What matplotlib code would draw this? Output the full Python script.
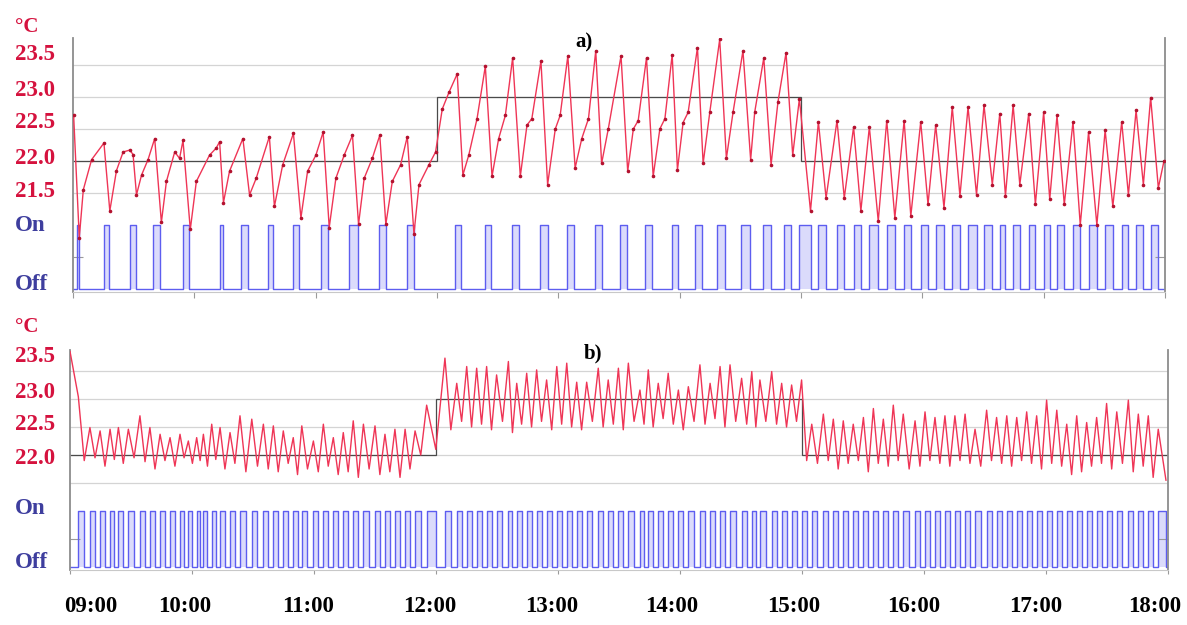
import matplotlib.pyplot as plt
import numpy as np
from matplotlib.transforms import ScaledTranslation

# time in minutes after 09:00, temperature in degC

# set point of the room (both runs)
sp_t = [0, 180, 360, 540]
sp_v = [22.0, 23.0, 22.0]

# ---- a) ----  vertices of the recorded temperature
a_t = [0.3, 3.1, 5.1, 9.2, 15.3, 18.2, 21.5, 24.8, 28.1, 29.7, 31.4, 33.9, 37.1, 40.4, 43.7, 46.2,
       50.3, 52.7, 54.4, 58.0, 61.0, 67.5, 70.8, 72.5, 74.4, 77.4, 84.0, 87.3, 90.6, 97.1, 99.6,
       103.7, 109.0, 112.7, 116.0, 120.1, 123.7, 126.7, 130.0, 134.1, 138.2, 141.2, 144.0, 148.0,
       151.7, 154.7, 157.9, 162.0, 165.3, 168.6, 171.1, 176.0, 179.3,
       182.6, 185.9, 190.0, 192.8, 195.7, 199.8, 203.9, 207.2, 210.5, 213.8, 217.4, 221.2, 224.5,
       226.9, 231.4, 234.7, 238.5, 240.9, 244.7, 248.3, 251.6, 254.9, 258.5, 261.4, 264.7, 271.0,
       274.3, 277.1, 279.5, 283.6, 286.9, 290.2, 292.7, 296.3, 298.9, 301.7, 304.2, 308.8, 311.6,
       314.9, 319.8, 323.1, 326.4, 331.3, 335.1, 337.1, 341.6, 345.2, 348.6, 352.6, 355.9, 359.2,
       364.7, 368.6, 372.4, 377.8, 381.4, 386.0, 389.6, 393.8, 398.2, 402.4, 406.4, 411.0, 414.3,
       419.2, 422.8, 426.6, 430.7, 434.8, 438.6, 442.6, 446.8, 450.5, 454.6, 458.3, 461.1, 464.9,
       468.2, 472.6, 475.9, 480.0, 483.0, 486.6, 490.2, 494.5, 498.1, 502.2, 506.3, 510.4, 514.2,
       518.6, 521.9, 525.7, 529.3, 532.9, 536.7, 539.5]
a_temp = [22.72, 20.80, 21.55, 22.02, 22.28, 21.22, 21.85, 22.14, 22.17, 22.10, 21.47, 21.78, 22.02,
          22.35, 21.04, 21.68, 22.14, 22.04, 22.32, 20.93, 21.68, 22.09, 22.20, 22.30, 21.35, 21.84,
          22.35, 21.47, 21.73, 22.38, 21.29, 21.94, 22.43, 21.11, 21.84, 22.09, 22.45, 20.96, 21.73,
          22.09, 22.40, 21.01, 21.73, 22.04, 22.40, 21.01, 21.68, 21.94, 22.38, 20.86, 21.63, 21.94,
          22.14,
          22.81, 23.07, 23.36, 21.78, 22.09, 22.66, 23.48, 21.76, 22.35, 22.71, 23.61, 21.76, 22.56,
          22.66, 23.56, 21.63, 22.50, 22.71, 23.64, 21.89, 22.35, 22.66, 23.72, 21.96, 22.50, 23.64,
          21.84, 22.50, 22.63, 23.61, 21.76, 22.50, 22.66, 23.66, 21.86, 22.60, 22.76, 23.77, 21.96,
          22.76, 23.90, 22.04, 22.76, 23.72, 22.02, 22.76, 23.61, 21.94, 22.92, 23.69, 22.09, 22.97,
          21.22, 22.61, 21.42, 22.63, 21.42, 22.53, 21.22, 22.53, 21.06, 22.63, 21.11, 22.63, 21.14,
          22.61, 21.32, 22.56, 21.27, 22.84, 21.45, 22.84, 21.47, 22.87, 21.63, 22.74, 21.45, 22.87,
          21.63, 22.74, 21.32, 22.76, 21.40, 22.71, 21.32, 22.61, 21.00, 22.45, 21.00, 22.48, 21.29,
          22.61, 21.47, 22.79, 21.63, 22.99, 21.58, 22.00]
# a) actuator switched on (start / end, minutes)
a_on_start = [1.8, 15.3, 28.1, 39.6, 54.4, 72.5, 83.2, 96.3, 109.0, 122.6, 136.6, 151.4, 165.3,
              189.1, 203.6, 217.1, 231.1, 244.2, 258.2, 270.5, 282.8, 296.0, 307.8, 318.6, 330.5,
              341.2, 351.8, 359.2, 368.6, 377.8, 386.0, 393.8, 402.4, 411.0, 419.2, 426.6, 434.8,
              442.6, 450.5, 458.3, 464.9, 472.6, 480.0, 486.6, 494.5, 502.2, 510.4, 518.6, 525.7,
              532.9]
a_on_end = [3.1, 17.9, 31.1, 42.9, 57.3, 74.1, 86.4, 99.1, 111.9, 125.9, 140.7, 154.7, 168.6,
            192.1, 206.9, 220.4, 234.8, 247.5, 261.5, 273.8, 286.1, 299.3, 311.1, 322.6, 334.6,
            345.0, 355.1, 364.7, 372.4, 381.4, 389.6, 398.2, 406.4, 414.3, 422.8, 430.7, 438.6,
            446.8, 454.6, 461.1, 468.2, 475.9, 483.0, 490.2, 498.1, 506.3, 514.2, 521.9, 529.3,
            536.7]

# ---- b) ----  peaks and troughs of the recorded temperature
b_start_v = 23.85
b_peak_t = [4.1, 9.8, 14.8, 19.7, 23.8, 28.7, 34.4, 39.3, 44.3, 49.2, 54.1, 58.2, 62.3, 65.6, 69.7,
            73.8, 78.7, 83.6, 89.4, 95.1, 100.0, 104.9, 109.8, 114.0, 119.7, 124.6, 129.5, 134.4,
            139.3, 144.3, 150.0, 154.9, 159.8, 164.8, 169.7, 175.4,
            184.4, 190.2, 195.1, 200.0, 204.9, 209.8, 215.6, 219.7, 224.6, 229.5, 234.4, 239.4,
            244.3, 249.2, 254.1, 259.8, 264.7, 269.7, 274.6, 280.3, 284.4, 289.3, 294.2, 299.2,
            304.1, 309.8, 314.8, 319.7, 324.6, 330.3, 335.3, 339.3, 345.1, 350.0, 354.9, 359.8,
            364.8, 370.5, 375.4, 380.3, 385.2, 390.2, 395.1, 400.0, 404.9, 409.8, 415.6, 420.5,
            425.4, 430.3, 435.2, 440.2, 445.1, 450.8, 455.7, 460.7, 465.6, 470.5, 475.4, 480.3,
            485.3, 490.2, 495.1, 500.0, 504.9, 509.8, 514.8, 520.5, 525.4, 530.3, 535.2]
b_peak_v = [23.04, 22.49, 22.43, 22.46, 22.49, 22.46, 22.70, 22.49, 22.37, 22.31, 22.37, 22.25,
            22.31, 22.37, 22.55, 22.49, 22.40, 22.70, 22.64, 22.55, 22.52, 22.43, 22.31, 22.52,
            22.25, 22.55, 22.31, 22.40, 22.61, 22.55, 22.52, 22.37, 22.46, 22.46, 22.43, 22.89,
            23.73, 23.28, 23.58, 23.55, 23.58, 23.43, 23.67, 23.28, 23.46, 23.52, 23.34, 23.58,
            23.64, 23.30, 23.30, 23.55, 23.34, 23.55, 23.64, 23.16, 23.52, 23.28, 23.46, 23.16,
            23.22, 23.61, 23.28, 23.58, 23.61, 23.37, 23.49, 23.34, 23.49, 23.28, 23.25, 23.34,
            22.55, 22.73, 22.64, 22.61, 22.55, 22.67, 22.83, 22.64, 22.89, 22.73, 22.61, 22.77,
            22.67, 22.70, 22.70, 22.73, 22.46, 22.80, 22.67, 22.70, 22.67, 22.77, 22.70, 22.98,
            22.80, 22.55, 22.70, 22.58, 22.67, 22.92, 22.77, 22.98, 22.73, 22.70, 22.46]
b_trough_t = [7.0, 12.3, 17.2, 21.8, 26.2, 31.5, 36.9, 41.8, 46.7, 51.6, 56.1, 60.2, 64.0, 67.6,
              71.7, 76.2, 81.1, 86.5, 92.2, 97.5, 102.4, 107.3, 111.9, 116.8, 122.1, 127.0, 131.9,
              136.8, 141.8, 147.1, 152.4, 157.3, 162.3, 167.2, 172.5, 179.9,
              187.3, 192.6, 197.5, 202.4, 207.3, 212.7, 217.6, 222.1, 227.0, 231.9, 236.9, 241.8,
              246.7, 251.6, 256.9, 262.2, 267.2, 272.1, 277.4, 282.3, 286.8, 291.7, 296.7, 301.6,
              306.9, 312.3, 317.2, 322.1, 327.4, 332.8, 337.3, 342.2, 347.5, 352.4, 357.3, 362.3,
              367.6, 372.9, 377.8, 382.7, 387.7, 392.6, 397.5, 402.4, 407.3, 412.7, 418.0, 422.9,
              427.8, 432.7, 437.7, 442.6, 447.9, 453.2, 458.2, 463.1, 468.0, 472.9, 477.8, 482.8,
              487.7, 492.6, 497.5, 502.4, 507.3, 512.3, 517.6, 522.9, 527.8, 532.7, 539.0]
b_trough_v = [21.90, 21.95, 21.80, 21.92, 21.85, 21.95, 21.88, 21.75, 21.90, 21.80, 21.95, 21.85,
              21.90, 21.80, 21.92, 21.75, 21.85, 21.70, 21.80, 21.75, 21.70, 21.85, 21.65, 21.75,
              21.70, 21.80, 21.65, 21.70, 21.60, 21.75, 21.65, 21.70, 21.60, 21.75, 22.00, 22.10,
              22.45, 22.60, 22.50, 22.55, 22.45, 22.60, 22.40, 22.55, 22.50, 22.60, 22.45, 22.55,
              22.50, 22.45, 22.60, 22.50, 22.55, 22.45, 22.60, 22.55, 22.50, 22.65, 22.55, 22.45,
              22.60, 22.55, 22.65, 22.50, 22.60, 22.55, 22.50, 22.60, 22.55, 22.50, 22.60, 21.90,
              21.85, 21.90, 21.75, 21.85, 21.90, 21.70, 21.85, 21.80, 21.90, 21.75, 21.80, 21.90,
              21.85, 21.80, 21.90, 21.85, 21.80, 21.90, 21.85, 21.80, 21.90, 21.85, 21.75, 21.85,
              21.80, 21.65, 21.70, 21.80, 21.85, 21.75, 21.85, 21.70, 21.80, 21.60, 21.55]

hours = ["09:00", "10:00", "11:00", "12:00", "13:00", "14:00", "15:00", "16:00", "17:00", "18:00"]

RED = "#ef3556"
BLUE = "#5d5df0"
LRED = "#d5123e"
LBLUE = "#3e3e9e"
SERIF = "Liberation Serif"
ON, OFF = 21.0, 20.0

W, H = 1187, 625
fig = plt.figure(figsize=(W / 100, H / 100), dpi=100)


def frame(ax, ylim):
    ax.set_xlim(0, 540)
    ax.set_ylim(*ylim)
    for s in ["left", "right"]:
        ax.spines[s].set_color("#8c8c8c")
        ax.spines[s].set_linewidth(1.3)
    ax.spines["top"].set_visible(False)
    ax.spines["bottom"].set_color("#c8c8c8")
    ax.spines["bottom"].set_linewidth(0.8)
    for g in [23.5, 23.0, 22.5, 22.0, 21.5]:
        ax.axhline(g, color="#d4d4d4", lw=0.9, zorder=0)
    ax.stairs(sp_v, sp_t, color="#4a4a4a", lw=0.9, baseline=None, zorder=2)
    ax.set_xticks(np.arange(0, 541, 60))
    ax.set_yticks([20.5])
    ax.tick_params(axis="y", direction="in", length=7, color="#9a9a9a", labelleft=False,
                   right=True)
    ax.tick_params(axis="x", direction="out", length=4, color="#9a9a9a")


def onoff(ax, starts, ends):
    xs, ys = [0], [OFF]
    for s, e in zip(starts, ends):
        xs += [s, s, e, e]
        ys += [OFF, ON, ON, OFF]
        ax.fill_between([s, e], OFF, ON, color=BLUE, alpha=0.22, lw=0, zorder=1)
    xs.append(540)
    ys.append(OFF)
    ax.plot(xs, ys, color=BLUE, lw=1.0, zorder=2)


# panel a
ax_a = fig.add_axes([73 / W, 1 - 292 / H, (1165 - 73) / W, (292 - 38) / H])
frame(ax_a, (19.953, 23.92))
ax_a.set_xticklabels([])
onoff(ax_a, a_on_start, a_on_end)
ax_a.plot(a_t, a_temp, color=RED, lw=1.0, zorder=3)
ax_a.plot(a_t, a_temp, "o", color="#b3122f", ms=1.6, zorder=3)
ax_a.text(0.468, 0.984, "a)", transform=ax_a.transAxes, ha="center", va="center",
          family=SERIF, weight="bold", fontsize=15)

# panel b: peaks and troughs alternate
bt = [0] + [v for pair in zip(b_peak_t, b_trough_t) for v in pair]
bv = [b_start_v] + [v for pair in zip(b_peak_v, b_trough_v) for v in pair]
ax_b = fig.add_axes([70 / W, 1 - 570 / H, (1168 - 70) / W, (570 - 350) / H])
frame(ax_b, (19.946, 23.875))
onoff(ax_b, b_peak_t, b_trough_t)
ax_b.plot(bt, bv, color=RED, lw=1.0, zorder=3)
ax_b.text(0.476, 1.03, "b)", transform=ax_b.transAxes, ha="center", va="top",
          family=SERIF, weight="bold", fontsize=15)
ax_b.set_xticklabels(hours, family=SERIF, weight="bold", fontsize=16.5)
ax_b.tick_params(axis="x", pad=16, length=3)
shift_px = [21, -7, -6, -6, -6, -8, -8, -10, -10, -13]
for lab, dx in zip(ax_b.get_xticklabels(), shift_px):
    lab.set_transform(lab.get_transform() + ScaledTranslation(dx / 100, 0, fig.dpi_scale_trans))

# hand made axis labels at the left
lab_a = [("°C", 27, LRED), ("23.5", 55, LRED), ("23.0", 90, LRED), ("22.5", 123, LRED),
         ("22.0", 158, LRED), ("21.5", 192, LRED), ("On", 226, LBLUE), ("Off", 284, LBLUE)]
lab_b = [("°C", 327, LRED), ("23.5", 357, LRED), ("23.0", 392, LRED), ("22.5", 425, LRED),
         ("22.0", 458, LRED), ("On", 508, LBLUE), ("Off", 562, LBLUE)]
for txt, y, c in lab_a + lab_b:
    fs = 15 if txt == "°C" else 16.5
    fig.text(15 / W, 1 - y / H, txt, ha="left", va="center", color=c, family=SERIF,
             weight="bold", fontsize=fs)

fig.savefig("out.png", dpi=100)
